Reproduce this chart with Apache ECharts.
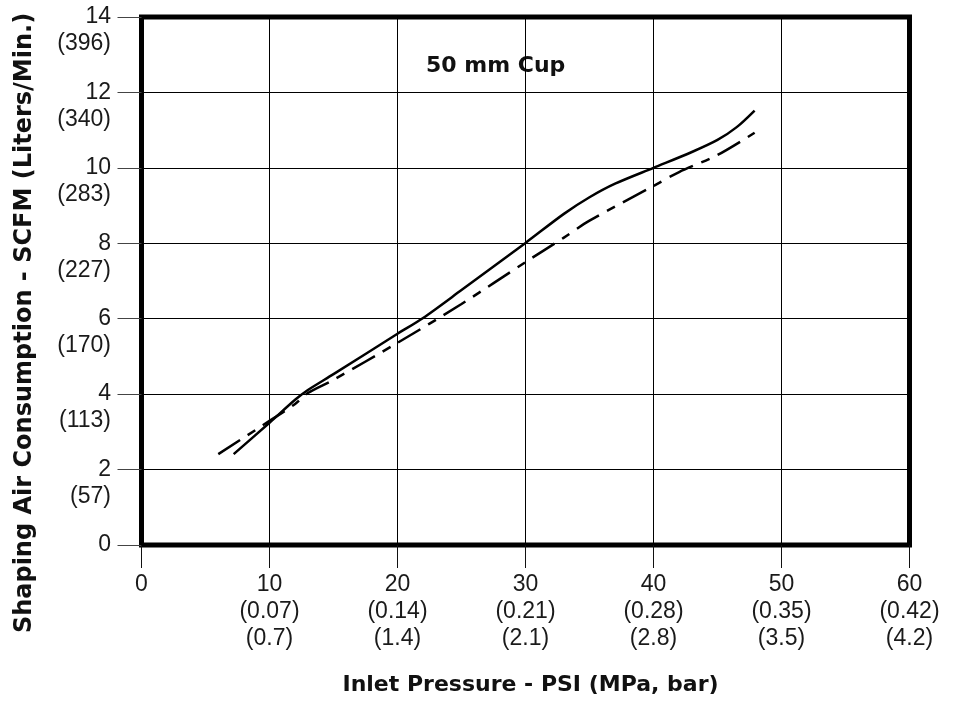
<!DOCTYPE html>
<html>
<head>
<meta charset="utf-8">
<script src="https://cdn.jsdelivr.net/npm/echarts@6/dist/echarts.min.js"></script>
<style>html,body{margin:0;padding:0;background:#fff}#c{width:958px;height:707px}</style>
</head>
<body>
<div id="c"></div>
<script>
// X axis ticks: PSI, (MPa), (bar)
const psiTicks = [0, 10, 20, 30, 40, 50, 60];
const mpaLabels = ['', '(0.07)', '(0.14)', '(0.21)', '(0.28)', '(0.35)', '(0.42)'];
const barLabels = ['', '(0.7)', '(1.4)', '(2.1)', '(2.8)', '(3.5)', '(4.2)'];
// Y axis ticks: SCFM, (Liters/Min.)
const scfmTicks = [0, 2, 4, 6, 8, 10, 12, 14];
const lpmLabels = ['', '(57)', '(113)', '(170)', '(227)', '(283)', '(340)', '(396)'];

// Solid curve (PSI, SCFM)
const solidPsi  = [7.2, 10, 12, 13, 15, 20, 22, 25, 30, 33, 35, 37, 40, 43, 45, 46.5, 47.9];
const solidScfm = [2.41, 3.24, 3.85, 4.11, 4.53, 5.60, 6.02, 6.76, 8.01, 8.78, 9.22, 9.58, 10.00, 10.42, 10.74, 11.08, 11.52];
// Dash-dot curve (PSI, SCFM)
const dashPsi  = [6, 10, 12, 13, 15, 20, 25, 30, 33, 35, 40, 42, 45, 47.9];
const dashScfm = [2.41, 3.29, 3.74, 4.03, 4.38, 5.36, 6.39, 7.50, 8.15, 8.60, 9.52, 9.89, 10.34, 10.93];

const chartTitle = '50 mm Cup';
const xTitle = 'Inlet Pressure - PSI (MPa, bar)';
const yTitle = 'Shaping Air Consumption - SCFM (Liters/Min.)';

const labelFont = 'Liberation Sans';
const boldFont = 'DejaVu Sans';

const chart = echarts.init(document.getElementById('c'), null, {renderer: 'canvas'});

const solidData = solidPsi.map((x, i) => [x, solidScfm[i]]);
const dashData = dashPsi.map((x, i) => [x, dashScfm[i]]);

const commonY = {
  type: 'value', min: 0, max: 14, interval: 2, position: 'left', offset: 0
};

chart.setOption({
  animation: false,
  backgroundColor: '#fff',
  grid: {
    left: 141.5, right: 48.5, top: 17, bottom: 162,
    show: true, borderColor: '#000', borderWidth: 5, backgroundColor: 'transparent'
  },
  xAxis: {
    type: 'value', min: 0, max: 60, interval: 10,
    axisLine: {show: false},
    axisTick: {show: true, length: 23, lineStyle: {color: '#111', width: 1}},
    splitLine: {show: true, lineStyle: {color: '#000', width: 1}},
    axisLabel: {
      margin: 26, color: '#1a1a1a', fontSize: 23, fontFamily: labelFont, lineHeight: 27,
      align: 'center',
      formatter: function (v) {
        const i = psiTicks.indexOf(v);
        if (i <= 0) return String(v);
        return v + '\n' + mpaLabels[i] + '\n' + barLabels[i];
      }
    }
  },
  yAxis: [
    Object.assign({}, commonY, {
      axisLine: {show: false},
      axisTick: {show: true, length: 24, lineStyle: {color: '#444', width: 1}},
      splitLine: {show: true, lineStyle: {color: '#000', width: 1}},
      axisLabel: {
        margin: 30.5, color: '#1a1a1a', fontSize: 23, fontFamily: labelFont,
        formatter: function (v) { return String(v); }
      }
    }),
    Object.assign({}, commonY, {
      axisLine: {show: false},
      axisTick: {show: false},
      splitLine: {show: false},
      axisLabel: {
        margin: 30.5, color: '#1a1a1a', fontSize: 23, fontFamily: labelFont,
        lineHeight: 27, verticalAlign: 'top', padding: [13.5, 0, 0, 0],
        formatter: function (v) {
          const i = scfmTicks.indexOf(v);
          return i >= 0 ? lpmLabels[i] : '';
        }
      }
    })
  ],
  series: [
    {
      type: 'line', name: 'solid', data: solidData, smooth: 0.3, showSymbol: false,
      xAxisIndex: 0, yAxisIndex: 0,
      lineStyle: {color: '#000', width: 2.5, type: 'solid'}
    },
    {
      type: 'line', name: 'dashdot', data: dashData, smooth: 0.3, showSymbol: false,
      xAxisIndex: 0, yAxisIndex: 0,
      lineStyle: {color: '#000', width: 2.5, type: [26, 9, 9, 9]}
    }
  ],
  graphic: [
    {
      type: 'text', x: 426, y: 66,
      style: {
        text: chartTitle, fill: '#111', fontSize: 22, fontWeight: 'bold', fontFamily: boldFont,
        textAlign: 'left', align: 'left', textVerticalAlign: 'middle', verticalAlign: 'middle'
      }
    },
    {
      type: 'text', x: 530.5, y: 685,
      style: {
        text: xTitle, fill: '#111', fontSize: 22, fontWeight: 'bold', fontFamily: boldFont,
        textAlign: 'center', align: 'center', textVerticalAlign: 'middle', verticalAlign: 'middle'
      }
    },
    {
      type: 'text', x: 25, y: 323, rotation: Math.PI / 2,
      style: {
        text: yTitle, fill: '#111', fontSize: 24, fontWeight: 'bold', fontFamily: boldFont,
        textAlign: 'center', align: 'center', textVerticalAlign: 'middle', verticalAlign: 'middle'
      }
    }
  ]
});
</script>
</body>
</html>
